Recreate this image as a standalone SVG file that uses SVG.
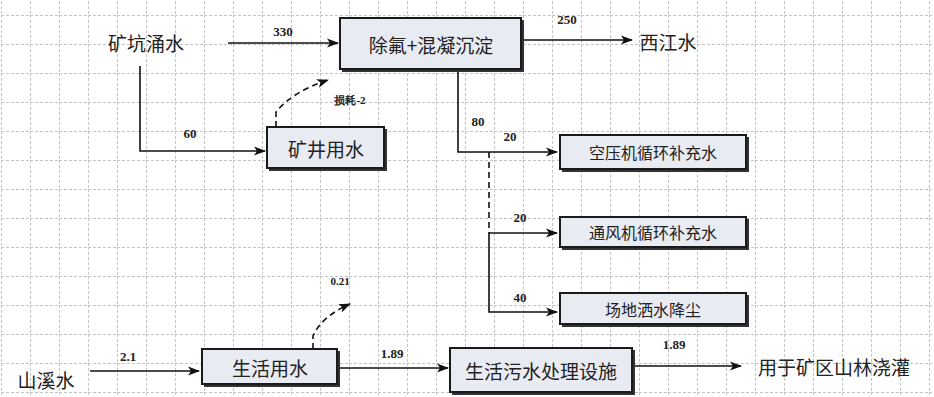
<svg xmlns="http://www.w3.org/2000/svg" width="934" height="397" viewBox="0 0 934 397">
<defs>
<pattern id="grid" x="1" y="15" width="29" height="29" patternUnits="userSpaceOnUse">
<path d="M0 0.5H29M0.5 0V29" fill="none" stroke="#c4c4c4" stroke-width="1" stroke-dasharray="3,2"/>
</pattern>
<marker id="ah" markerWidth="12" markerHeight="10" refX="11" refY="5" orient="auto" markerUnits="userSpaceOnUse">
<path d="M0 0.5L12 5L0 9.5L3 5Z" fill="#111"/>
</marker>
<style>
.box{fill:#e9ebf3;stroke:#1a1a1a;stroke-width:2}
.sh{fill:#333}
.t{font-family:"Noto Sans CJK SC","Noto Sans",sans-serif;font-size:19px;fill:#222;text-anchor:middle;dominant-baseline:central}
.ts{font-size:16px}
.n{font-family:"Liberation Serif",serif;font-size:13px;font-weight:bold;fill:#222;text-anchor:middle}
.ln{fill:none;stroke:#111;stroke-width:1.6}
.dl{fill:none;stroke:#111;stroke-width:1.6;stroke-dasharray:6,4}
</style>
</defs>
<rect width="934" height="397" fill="#fff"/>
<rect width="934" height="397" fill="url(#grid)"/>

<g id="connectors">
<path class="ln" d="M228 43H338" marker-end="url(#ah)"/>
<text class="n" x="283" y="36">330</text>
<path class="ln" d="M140 66V151H265" marker-end="url(#ah)"/>
<text class="n" x="190" y="138">60</text>
<path class="dl" d="M276 127V112Q292 92 328 80" marker-end="url(#ah)"/>
<text class="n" x="350" y="104" style="font-size:11px">损耗-2</text>
<path class="ln" d="M522 40H632" marker-end="url(#ah)"/>
<text class="n" x="567" y="24">250</text>
<path class="ln" d="M458 70V152H557" marker-end="url(#ah)"/>
<text class="n" x="478" y="126">80</text>
<text class="n" x="510" y="141">20</text>
<path class="dl" d="M489 152V233"/>
<path class="ln" d="M489 233V312H557" marker-end="url(#ah)"/>
<path class="ln" d="M489 233H557" marker-end="url(#ah)"/>
<text class="n" x="520" y="222">20</text>
<text class="n" x="520" y="302">40</text>
<path class="ln" d="M90 371H199" marker-end="url(#ah)"/>
<text class="n" x="128" y="361">2.1</text>
<path class="dl" d="M313 349V336Q322 316 350 304" marker-end="url(#ah)"/>
<text class="n" x="340" y="285" style="font-size:11px">0.21</text>
<path class="ln" d="M339 368H448" marker-end="url(#ah)"/>
<text class="n" x="392" y="358">1.89</text>
<path class="ln" d="M634 366H741" marker-end="url(#ah)"/>
<text class="n" x="674" y="349">1.89</text>
</g>

<g id="src-mine"><text class="t" x="146" y="42">矿坑涌水</text></g>
<g id="box-treat"><rect class="sh" x="342" y="20" width="182" height="52"/><rect class="box" x="340" y="18" width="181" height="51"/><text class="t" x="431" y="44">除氟+混凝沉淀</text></g>
<g id="out-river"><text class="t" x="668" y="41">西江水</text></g>
<g id="box-mineuse"><rect class="sh" x="269" y="129" width="118" height="42"/><rect class="box" x="267" y="127" width="117" height="41"/><text class="t" x="326" y="148">矿井用水</text></g>
<g id="box-compressor"><rect class="sh" x="562" y="137" width="187" height="35"/><rect class="box" x="560" y="135" width="186" height="34"/><text class="t ts" x="653" y="152">空压机循环补充水</text></g>
<g id="box-fan"><rect class="sh" x="562" y="219" width="187" height="31"/><rect class="box" x="560" y="217" width="186" height="30"/><text class="t ts" x="653" y="232">通风机循环补充水</text></g>
<g id="box-dust"><rect class="sh" x="562" y="295" width="187" height="32"/><rect class="box" x="560" y="293" width="186" height="31"/><text class="t ts" x="653" y="309">场地洒水降尘</text></g>
<g id="src-stream"><text class="t" x="46" y="379">山溪水</text></g>
<g id="box-domestic"><rect class="sh" x="204" y="351" width="136" height="36"/><rect class="box" x="202" y="349" width="135" height="35"/><text class="t" x="270" y="367">生活用水</text></g>
<g id="box-sewage"><rect class="sh" x="452" y="350" width="183" height="45"/><rect class="box" x="450" y="348" width="182" height="44"/><text class="t" x="541" y="370">生活污水处理设施</text></g>
<g id="out-irrigate"><text class="t" x="834" y="366">用于矿区山林浇灌</text></g>
</svg>
